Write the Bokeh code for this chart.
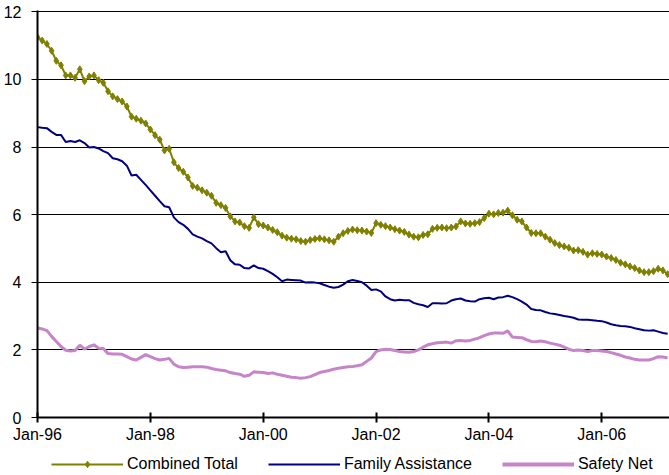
from bokeh.plotting import figure
from bokeh.layouts import column
from bokeh.models import (Range1d, FixedTicker, Legend, LegendItem, ColumnDataSource)
from bokeh.embed import file_html
from bokeh.resources import INLINE

# Months since Jan-96 (monthly readings)
family_assistance = [
    8.59, 8.57, 8.56, 8.45, 8.36, 8.36, 8.15, 8.18, 8.15, 8.20, 8.12, 7.99,
    8.00, 7.96, 7.88, 7.82, 7.67, 7.64, 7.58, 7.45, 7.16, 7.18, 7.03, 6.88,
    6.72, 6.56, 6.40, 6.25, 6.22, 5.92, 5.78, 5.70, 5.58, 5.42, 5.35, 5.30,
    5.22, 5.15, 5.01, 4.89, 4.92, 4.65, 4.53, 4.52, 4.42, 4.41, 4.50, 4.42,
    4.40, 4.33, 4.25, 4.15, 4.03, 4.08, 4.07, 4.06, 4.05, 3.99, 4.00, 3.99,
    3.97, 3.92, 3.87, 3.84, 3.86, 3.93, 4.03, 4.07, 4.04, 4.00, 3.90, 3.77,
    3.79, 3.73, 3.58, 3.50, 3.46, 3.48, 3.47, 3.47, 3.39, 3.35, 3.32, 3.27,
    3.38, 3.38, 3.37, 3.38, 3.46, 3.50, 3.52, 3.46, 3.44, 3.43, 3.50, 3.53,
    3.54, 3.50, 3.55, 3.56, 3.60, 3.56, 3.50, 3.43, 3.34, 3.21, 3.18, 3.17,
    3.12, 3.08, 3.06, 3.03, 3.00, 2.98, 2.95, 2.90, 2.89, 2.89, 2.88, 2.86,
    2.85, 2.81, 2.76, 2.73, 2.71, 2.70, 2.68, 2.64, 2.61, 2.58, 2.57, 2.58,
    2.54, 2.50, 2.48,
]
safety_net = [
    2.65, 2.62, 2.57, 2.40, 2.25, 2.10, 1.99, 1.97, 1.98, 2.14, 2.02, 2.10,
    2.15, 2.05, 2.04, 1.89, 1.88, 1.88, 1.87, 1.80, 1.73, 1.70, 1.78, 1.86,
    1.80, 1.74, 1.70, 1.72, 1.75, 1.58, 1.50, 1.48, 1.49, 1.50, 1.50, 1.50,
    1.49, 1.45, 1.42, 1.40, 1.38, 1.33, 1.30, 1.28, 1.22, 1.25, 1.35, 1.34,
    1.33, 1.30, 1.32, 1.28, 1.25, 1.22, 1.19, 1.18, 1.16, 1.18, 1.21, 1.27,
    1.33, 1.36, 1.39, 1.43, 1.46, 1.48, 1.50, 1.51, 1.53, 1.56, 1.66, 1.76,
    1.95, 2.00, 2.02, 2.01, 1.98, 1.95, 1.94, 1.93, 1.95, 2.00, 2.08, 2.15,
    2.18, 2.21, 2.22, 2.23, 2.20, 2.27, 2.28, 2.26, 2.28, 2.32, 2.36, 2.42,
    2.47, 2.50, 2.50, 2.49, 2.56, 2.38, 2.37, 2.36, 2.30, 2.25, 2.24, 2.26,
    2.24, 2.20, 2.17, 2.14, 2.08, 2.02, 1.98, 2.00, 1.98, 1.95, 1.98, 1.98,
    1.97, 1.95, 1.92, 1.88, 1.84, 1.79, 1.76, 1.72, 1.70, 1.70, 1.70, 1.74,
    1.80, 1.79, 1.76,
]
combined_total = [
    11.25, 11.15, 11.05, 10.85, 10.55, 10.42, 10.12, 10.12, 10.05, 10.30, 9.95, 10.09,
    10.12, 9.98, 9.90, 9.65, 9.50, 9.42, 9.35, 9.20, 8.90, 8.84, 8.78, 8.70,
    8.52, 8.35, 8.22, 7.90, 7.95, 7.55, 7.38, 7.27, 7.10, 6.85, 6.80, 6.72,
    6.65, 6.56, 6.35, 6.28, 6.20, 5.95, 5.80, 5.77, 5.66, 5.61, 5.92, 5.72,
    5.68, 5.62, 5.55, 5.48, 5.38, 5.32, 5.29, 5.27, 5.22, 5.20, 5.25, 5.28,
    5.30, 5.27, 5.24, 5.20, 5.35, 5.45, 5.52, 5.56, 5.54, 5.53, 5.50, 5.46,
    5.75, 5.70, 5.66, 5.62, 5.57, 5.53, 5.49, 5.41, 5.35, 5.33, 5.40, 5.42,
    5.58, 5.61, 5.62, 5.60, 5.62, 5.65, 5.80, 5.74, 5.73, 5.75, 5.78, 5.90,
    6.03, 6.01, 6.05, 6.06, 6.12, 5.98, 5.85, 5.80, 5.62, 5.46, 5.45, 5.45,
    5.35, 5.26, 5.16, 5.10, 5.06, 5.02, 4.94, 4.95, 4.90, 4.82, 4.86, 4.84,
    4.82, 4.76, 4.72, 4.66, 4.58, 4.53, 4.47, 4.42, 4.35, 4.30, 4.30, 4.33,
    4.40, 4.35, 4.24,
]
months = list(range(len(family_assistance)))

tick_months = [0, 24, 48, 72, 96, 120]
tick_labels = ["Jan-96", "Jan-98", "Jan-00", "Jan-02", "Jan-04", "Jan-06"]
y_ticks = [0, 2, 4, 6, 8, 10, 12]
series_names = ["Combined Total", "Family Assistance", "Safety Net"]

FONT = "Liberation Sans"
C_COMB, C_FAM, C_SAFE = "#808000", "#000080", "#C585C8"

src = ColumnDataSource(dict(m=months, fam=family_assistance,
                            safe=safety_net, comb=combined_total))

p = figure(width=669, height=452, output_backend="svg", toolbar_location=None,
           x_range=Range1d(0, 134.4), y_range=Range1d(0, 12.04),
           min_border_left=0, min_border_right=0, min_border_top=10,
           min_border_bottom=35)
p.outline_line_color = None
p.background_fill_color = "white"
p.border_fill_color = "white"

p.line("m", "safe", source=src, line_color=C_SAFE, line_width=3)
p.line("m", "fam", source=src, line_color=C_FAM, line_width=2)
p.line("m", "comb", source=src, line_color=C_COMB, line_width=2)
p.scatter("m", "comb", source=src, marker="diamond", size=7,
          fill_color=C_COMB, line_color=C_COMB)

# axes
p.xaxis.ticker = FixedTicker(ticks=tick_months)
p.xaxis.major_label_overrides = {m: lab for m, lab in zip(tick_months, tick_labels)}
p.xaxis.axis_line_width = 2
p.xaxis.axis_line_color = "black"
p.xaxis.major_tick_in = 5
p.xaxis.major_tick_out = 5
p.xaxis.major_tick_line_width = 2
p.xaxis.minor_tick_line_color = None
p.xaxis.major_label_standoff = 3
p.xaxis.major_label_text_font = FONT
p.xaxis.major_label_text_font_size = "16px"
p.xaxis.major_label_text_color = "black"

p.yaxis.ticker = FixedTicker(ticks=y_ticks)
p.yaxis.axis_line_width = 2
p.yaxis.axis_line_color = "black"
p.yaxis.major_tick_in = 0
p.yaxis.major_tick_out = 6
p.yaxis.major_tick_line_width = 1
p.yaxis.minor_tick_line_color = None
p.yaxis.major_label_standoff = 10
p.yaxis.major_label_text_font = FONT
p.yaxis.major_label_text_font_size = "16px"
p.yaxis.major_label_text_color = "black"

p.xgrid.grid_line_color = None
p.ygrid.ticker = FixedTicker(ticks=y_ticks[1:])
p.ygrid.grid_line_color = "black"
p.ygrid.grid_line_width = 1

# legend strip below the chart (its renderers sit outside its visible range,
# so only the legend swatches show)
leg = figure(width=669, height=23, output_backend="svg", toolbar_location=None,
             x_axis_location=None, y_axis_location=None,
             x_range=Range1d(0, 1), y_range=Range1d(0, 1),
             min_border_left=0, min_border_right=0, min_border_top=0,
             min_border_bottom=0)
leg.outline_line_color = None
leg.grid.visible = False
off = dict(x=[-10, -9], y=[-10, -10])
lg_comb = leg.line(line_color=C_COMB, line_width=2, **off)
lg_comb_m = leg.scatter(marker="diamond", size=7,
                        fill_color=C_COMB, line_color=C_COMB, **off)
lg_fam = leg.line(line_color=C_FAM, line_width=2, **off)
lg_safe = leg.line(line_color=C_SAFE, line_width=4, **off)

legend = Legend(items=[
    LegendItem(label=series_names[0], renderers=[lg_comb, lg_comb_m]),
    LegendItem(label=series_names[1], renderers=[lg_fam]),
    LegendItem(label=series_names[2], renderers=[lg_safe]),
], orientation="horizontal", location=(14, 2))
legend.border_line_color = None
legend.background_fill_alpha = 0
legend.padding = 0
legend.margin = 0
legend.spacing = 30
legend.glyph_width = 72
legend.glyph_height = 16
legend.label_height = 16
legend.label_standoff = 4
legend.label_text_font = FONT
legend.label_text_font_size = "16px"
legend.label_text_color = "black"
leg.add_layout(legend)

layout = column(p, leg, spacing=0)
open("out.html", "w").write(file_html(layout, INLINE))
